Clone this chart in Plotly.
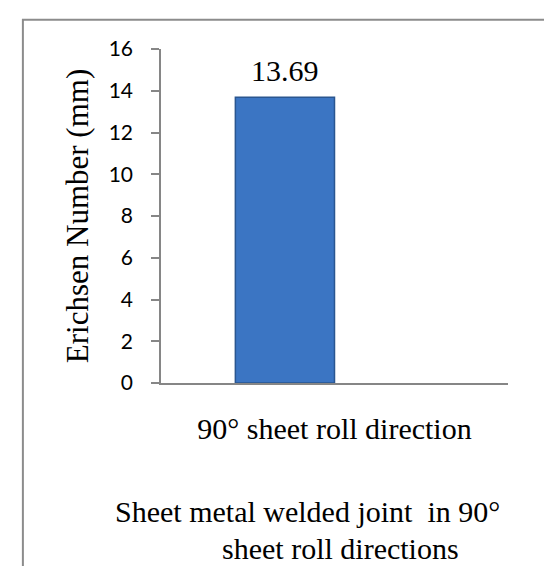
import plotly.graph_objects as go

categories = ["90° sheet roll direction"]
erichsen_values = [13.69]
value_labels = ["13.69"]
y_tick_values = [0, 2, 4, 6, 8, 10, 12, 14, 16]
y_tick_labels = ["0", "2", "4", "6", "8", "10", "12", "14", "16"]
x_title_lines = ["Sheet metal welded joint  in 90°", "sheet roll directions"]
y_title = "Erichsen Number (mm)"

SERIF = "Liberation Serif, Times New Roman, serif"
SANS = "Lato, Carlito, Calibri, sans-serif"
AXIS_GRAY = "#868686"

BAR_WIDTH = 0.2857
BAR_OFFSET = -0.2857
bar_center = BAR_OFFSET + BAR_WIDTH / 2

fig = go.Figure()
fig.add_trace(go.Bar(
    x=categories,
    y=erichsen_values,
    width=BAR_WIDTH,
    offset=BAR_OFFSET,
    marker=dict(color="#3b75c3", line=dict(color="#2a5690", width=1.5)),
    showlegend=False,
    hoverinfo="x+y",
))

annotations = []
for i, (v, lab) in enumerate(zip(erichsen_values, value_labels)):
    annotations.append(dict(
        x=i + bar_center, y=v, xref="x", yref="y",
        text=lab, showarrow=False, yanchor="bottom", yshift=8,
        font=dict(family=SERIF, size=30, color="black"),
    ))

annotations.append(dict(
    x=0.4236, y=-0.385, xref="paper", yref="paper",
    text=x_title_lines[0], showarrow=False, xanchor="center", yanchor="middle",
    font=dict(family=SERIF, size=30, color="black"),
))
annotations.append(dict(
    x=0.516, y=-0.497, xref="paper", yref="paper",
    text=x_title_lines[1], showarrow=False, xanchor="center", yanchor="middle",
    font=dict(family=SERIF, size=30, color="black"),
))

fig.update_layout(
    width=552,
    height=566,
    margin=dict(l=153, r=52, t=41, b=191),
    paper_bgcolor="white",
    plot_bgcolor="white",
    showlegend=False,
    xaxis=dict(
        type="category",
        range=[-0.5, 0.5],
        showline=True,
        linecolor=AXIS_GRAY,
        linewidth=1.5,
        ticks="",
        showgrid=False,
        tickfont=dict(family=SERIF, size=30, color="black"),
        ticklabelstandoff=18,
        automargin=False,
    ),
    yaxis=dict(
        range=[0, 16],
        tickvals=y_tick_values,
        ticktext=y_tick_labels,
        showline=True,
        linecolor=AXIS_GRAY,
        linewidth=1.5,
        ticks="outside",
        ticklen=8,
        tickwidth=1.5,
        tickcolor=AXIS_GRAY,
        showgrid=False,
        zeroline=False,
        tickfont=dict(family=SANS, size=21, color="black"),
        ticklabelstandoff=14,
        title=dict(
            text=y_title,
            font=dict(family=SERIF, size=31, color="black"),
            standoff=11,
        ),
        automargin=False,
    ),
    annotations=annotations,
    shapes=[
        dict(type="rect", xref="paper", yref="paper",
             x0=-0.398, x1=1.4, y0=-0.8, y1=1.0877,
             line=dict(color="#8c8c8c", width=2), fillcolor="rgba(0,0,0,0)",
             layer="below"),
    ],
)

fig.write_html("out.html")
